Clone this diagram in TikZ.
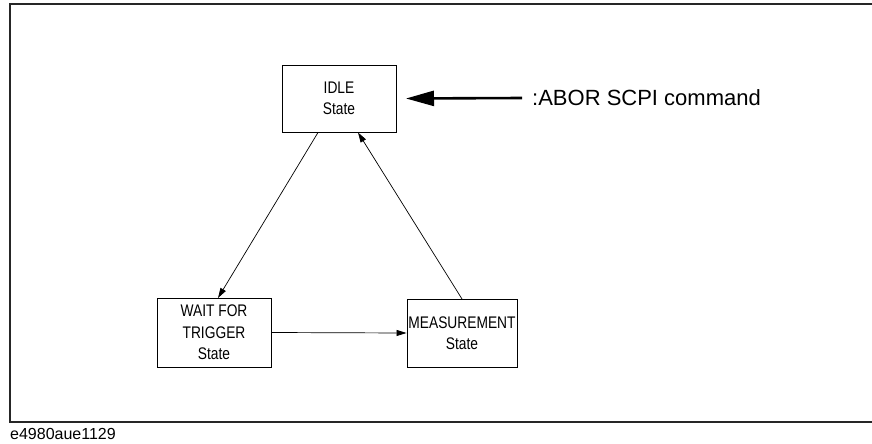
\documentclass[tikz,border=0pt]{standalone}
\usepackage{fontspec}
\setmainfont{Liberation Sans}
\newfontfamily\narrowfont[FakeStretch=0.82]{Liberation Sans}
\usetikzlibrary{arrows.meta}
\begin{document}
\begin{tikzpicture}[x=1pt,y=-1pt,
  statebox/.style={draw, line width=0.9pt, inner sep=0pt, align=center,
    font=\narrowfont\fontsize{16.8}{21.5}\selectfont},
  flow/.style={line width=0.7pt, -{Triangle[length=10pt,width=6pt]}}]
\useasboundingbox (0,0) rectangle (872,444);
\draw[line width=2pt, black!85] (872,4) -- (9.5,4) -- (9.5,422) -- (872,422);
\node[statebox, minimum width=114pt, minimum height=67pt] (idle) at (339,98.5) {IDLE\\State};
\node[statebox, minimum width=114pt, minimum height=69pt] (wait) at (214,332.5) {WAIT FOR\\TRIGGER\\State};
\node[statebox, minimum width=110pt, minimum height=68pt] (meas) at (462,333) {MEASUREMENT\\State};
\coordinate (a1) at (318,132.5);
\coordinate (a2) at (218,298);
\coordinate (b1) at (462,299);
\coordinate (b2) at (358,132.5);
\draw[flow] (a1) -- (a2);
\draw[flow] (b1) -- (b2);
\draw[flow] (wait.east) -- (meas.west);
\node[anchor=west, font=\fontsize{22}{26}\selectfont, inner sep=0pt] (cmd) at (532,98) {:ABOR SCPI command};
\draw[line width=2.6pt, -{Triangle[length=28pt,width=15pt]}] (cmd.west) ++(-10,0) coordinate (c0) (c0) -- (idle.east -| 406,0);
\node[anchor=base west, font=\fontsize{16}{18}\selectfont, inner sep=0pt] (ref) at (10,439) {e4980aue1129};
\end{tikzpicture}
\end{document}
